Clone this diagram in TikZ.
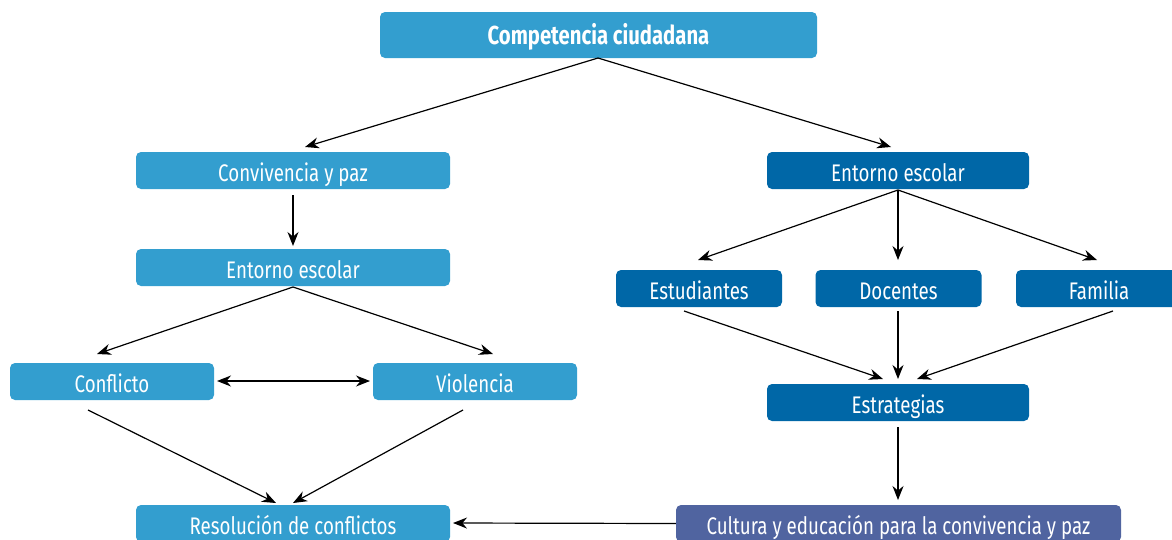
\documentclass[tikz,border=0pt]{standalone}
\usepackage{fontspec}
\setmainfont[FakeStretch=0.78]{Fira Sans}
\usetikzlibrary{arrows.meta,calc}
\definecolor{lblue}{HTML}{339ECF}
\definecolor{dblue}{HTML}{0067A7}
\definecolor{pblue}{HTML}{5064A0}
\tikzset{
  box/.style={rounded corners=5pt, text=white, font=\fontsize{24}{26}\selectfont, inner sep=0pt, text height=22pt, text depth=0pt},
  lbox/.style={box, fill=lblue},
  dbox/.style={box, fill=dblue},
  pbox/.style={box, fill=pblue},
  conn/.style={line width=1.2pt, -{Stealth[length=14pt,width=11pt]}},
  dconn/.style={line width=1.2pt, {Stealth[length=14pt,width=11pt]}-{Stealth[length=14pt,width=11pt]}},
}
\begin{document}
\begin{tikzpicture}[x=1pt,y=-1pt]
\useasboundingbox (0,0) rectangle (1172,539);
\clip (0,0) rectangle (1172,539);
% nodes
\node[lbox, minimum width=437pt, minimum height=46pt, text height=18.6pt, font=\fontsize{26}{28}\selectfont\bfseries] (top) at (598.5,35) {Competencia ciudadana};
\node[lbox, minimum width=314pt, minimum height=37pt] (conv) at (293,170.5) {Convivencia y paz};
\node[lbox, minimum width=314pt, minimum height=37pt] (entl) at (293,267.5) {Entorno escolar};
\node[lbox, minimum width=204pt, minimum height=37pt] (conf) at (112,381.5) {Conflicto};
\node[lbox, minimum width=204pt, minimum height=37pt] (viol) at (475,381.5) {Violencia};
\node[lbox, minimum width=314pt, minimum height=37pt] (res) at (293,523.5) {Resolución de conflictos};
\node[dbox, minimum width=262pt, minimum height=37pt] (entr) at (898,170.5) {Entorno escolar};
\node[dbox, minimum width=166pt, minimum height=37pt] (est) at (699,288.5) {Estudiantes};
\node[dbox, minimum width=166pt, minimum height=37pt] (doc) at (898.5,288.5) {Docentes};
\node[dbox, minimum width=166pt, minimum height=37pt] (fam) at (1099,288.5) {Familia};
\node[dbox, minimum width=262pt, minimum height=37pt] (estr) at (898,402.5) {Estrategias};
\node[pbox, minimum width=445pt, minimum height=37pt] (cult) at (898.5,523.5) {Cultura y educación para la convivencia y paz};
% helper coordinates
\coordinate (topb) at (598,58);
\coordinate (entlb) at (293,287);
\coordinate (entrb) at (898,190);
\coordinate (confb) at (88,410);
\coordinate (violb) at (463,410);
\coordinate (estb) at (684,311);
\coordinate (docb) at (898,311);
\coordinate (famb) at (1113,311);
\coordinate (estrb) at (898,427);
\coordinate (convt) at (305,147);
\coordinate (entrt) at (891,147);
\coordinate (conft) at (97,354);
\coordinate (violt) at (493,354);
\coordinate (estt) at (698,260);
\coordinate (doct) at (898,260);
\coordinate (famt) at (1097,260);
\coordinate (estrt1) at (883,379);
\coordinate (estrt2) at (898,379);
\coordinate (estrt3) at (917,379);
\coordinate (rest1) at (276,503);
\coordinate (rest2) at (293,503);
\coordinate (cultt) at (898,500);
\coordinate (convb) at (293,195);
\coordinate (entlt) at (293,246);
\coordinate (confr) at (217,381);
\coordinate (violl) at (370,381);
\coordinate (resr) at (453,523);
% connectors
\draw[conn] (topb) -- (convt);
\draw[conn] (topb) -- (entrt);
\draw[conn] (convb) -- (entlt);
\draw[conn] (entlb) -- (conft);
\draw[conn] (entlb) -- (violt);
\draw[dconn] (confr) -- (violl);
\draw[conn] (confb) -- (rest1);
\draw[conn] (violb) -- (rest2);
\draw[conn] (entrb) -- (estt);
\draw[conn] (entrb) -- (doct);
\draw[conn] (entrb) -- (famt);
\draw[conn] (estb) -- (estrt1);
\draw[conn] (docb) -- (estrt2);
\draw[conn] (famb) -- (estrt3);
\draw[conn] (estrb) -- (cultt);
\draw[conn] (cult.west) -- (resr);
\end{tikzpicture}
\end{document}
